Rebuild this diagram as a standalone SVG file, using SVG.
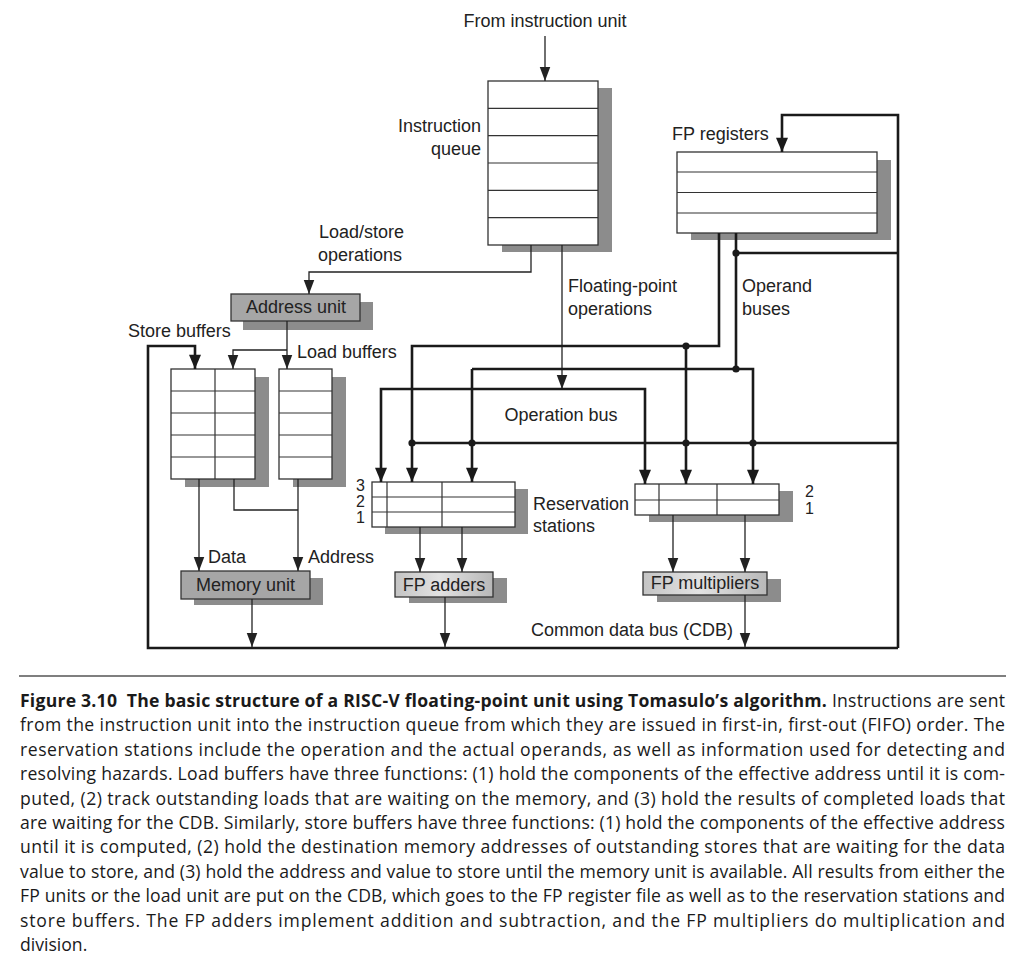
<svg xmlns="http://www.w3.org/2000/svg" width="1024" height="974" viewBox="0 0 1024 974">
<defs>
<style>
.t{font-family:"Liberation Sans",Arial,sans-serif;font-size:18px;fill:#222}
.n{font-family:"Liberation Sans",Arial,sans-serif;font-size:16px;fill:#222}
.c{font-family:"Open Sans","Noto Sans",sans-serif;font-size:17.6px;fill:#1a1a1a}
.b{font-weight:bold}
.box{fill:#fff;stroke:#333;stroke-width:1.3}
.sh{fill:#8c8c8c}
.gray{fill:#a6a6a6;stroke:#333;stroke-width:1.3}
.grad{fill:url(#g);stroke:#333;stroke-width:1.3}
.row{stroke:#333;stroke-width:1.2;fill:none}
.thin{stroke:#222;stroke-width:1.3;fill:none}
.thick{stroke:#1a1a1a;stroke-width:2.6;fill:none}
.dot{fill:#1a1a1a}
</style>
<linearGradient id="g" x1="0" y1="0" x2="1" y2="0">
<stop offset="0" stop-color="#c4c4c4"/>
<stop offset="0.45" stop-color="#e2e2e2"/>
<stop offset="1" stop-color="#b8b8b8"/>
</linearGradient>
<marker id="a" markerUnits="userSpaceOnUse" markerWidth="14" markerHeight="12" viewBox="0 0 12 10" refX="12" refY="5" orient="auto">
<path d="M0,0.5 L12,5 L0,9.5 z" fill="#222"/>
</marker>
<marker id="A" markerUnits="userSpaceOnUse" markerWidth="15" markerHeight="12" viewBox="0 0 13 11" refX="13" refY="5.5" orient="auto">
<path d="M0,0 L13,5.5 L0,11 z" fill="#1a1a1a"/>
</marker>
</defs>
<rect width="1024" height="974" fill="#fff"/>

<text class="t" x="545" y="27" text-anchor="middle">From instruction unit</text>

<g id="instruction-queue">
<rect class="sh" x="502" y="88" width="110" height="164"/>
<rect class="box" x="488" y="81" width="110" height="164"/>
<path class="row" d="M488,108.3H598M488,135.7H598M488,163H598M488,190.3H598M488,217.7H598"/>
<text class="t" x="481" y="132" text-anchor="end">Instruction</text>
<text class="t" x="481" y="155" text-anchor="end">queue</text>
</g>

<g id="fp-registers">
<rect class="sh" x="691" y="160" width="200" height="80"/>
<rect class="box" x="677" y="152" width="200" height="81"/>
<path class="row" d="M677,172H877M677,192.5H877M677,213H877"/>
<text class="t" x="672" y="140">FP registers</text>
</g>

<g id="address-unit">
<rect class="sh" x="243" y="302" width="130" height="28"/>
<rect class="gray" x="231" y="294" width="129" height="27"/>
<text class="t" x="296" y="313" text-anchor="middle">Address unit</text>
</g>

<g id="store-buffers">
<rect class="sh" x="185" y="377" width="84" height="110"/>
<rect class="box" x="171" y="369" width="84" height="110"/>
<path class="row" d="M215,369V479M171,391H255M171,413H255M171,435H255M171,457H255"/>
<text class="t" x="128" y="337">Store buffers</text>
</g>

<g id="load-buffers">
<rect class="sh" x="293" y="377" width="53" height="110"/>
<rect class="box" x="279" y="369" width="53" height="110"/>
<path class="row" d="M279,391H332M279,413H332M279,435H332M279,457H332"/>
<text class="t" x="297" y="358">Load buffers</text>
</g>

<g id="memory-unit">
<rect class="sh" x="194" y="578" width="129" height="27"/>
<rect class="gray" x="181" y="571" width="129" height="28"/>
<text class="t" x="245.5" y="591" text-anchor="middle">Memory unit</text>
</g>

<g id="adder-reservation-stations">
<rect class="sh" x="385" y="489" width="143" height="45"/>
<rect class="box" x="372" y="482" width="143" height="45"/>
<path class="row" d="M372,497H515M372,512H515M387,482V527M442,482V527"/>
<text class="n" x="365" y="491" text-anchor="end">3</text>
<text class="n" x="365" y="507" text-anchor="end">2</text>
<text class="n" x="365" y="523" text-anchor="end">1</text>
<text class="t" x="533" y="510">Reservation</text>
<text class="t" x="533" y="532">stations</text>
</g>

<g id="multiplier-reservation-stations">
<rect class="sh" x="649" y="491" width="144" height="31"/>
<rect class="box" x="635" y="484" width="144" height="31"/>
<path class="row" d="M635,500H779M659,484V515M717,484V515"/>
<text class="n" x="805" y="497">2</text>
<text class="n" x="805" y="514">1</text>
</g>

<g id="fp-adders">
<rect class="sh" x="409" y="578" width="98" height="25"/>
<rect class="grad" x="395" y="572" width="98" height="25"/>
<text class="t" x="444" y="591" text-anchor="middle">FP adders</text>
</g>

<g id="fp-multipliers">
<rect class="sh" x="657" y="579" width="124" height="23"/>
<rect class="grad" x="643" y="572" width="124" height="23"/>
<text class="t" x="705" y="589" text-anchor="middle">FP multipliers</text>
</g>

<g id="labels">
<text class="t" x="319" y="238">Load/store</text>
<text class="t" x="318" y="261">operations</text>
<text class="t" x="568" y="292">Floating-point</text>
<text class="t" x="568" y="315">operations</text>
<text class="t" x="742" y="292">Operand</text>
<text class="t" x="742" y="315">buses</text>
<text class="t" x="561" y="421" text-anchor="middle">Operation bus</text>
<text class="t" x="208" y="563">Data</text>
<text class="t" x="308" y="563">Address</text>
<text class="t" x="733" y="636" text-anchor="end">Common data bus (CDB)</text>
</g>

<g id="connectors">
<path class="thin" d="M545,36V81" marker-end="url(#a)"/>
<path class="thin" d="M531,245V272H309V294" marker-end="url(#a)"/>
<path class="thin" d="M562,245V389" marker-end="url(#a)"/>
<path class="thin" d="M287,321V369" marker-end="url(#a)"/>
<path class="thin" d="M287,350H233V369" marker-end="url(#a)"/>
<path class="thin" d="M199,479V571" marker-end="url(#a)"/>
<path class="thin" d="M234,479V510H298"/>
<path class="thin" d="M298,479V571" marker-end="url(#a)"/>
<path class="thin" d="M252,599V647" marker-end="url(#a)"/>
<path class="thin" d="M420,527V572" marker-end="url(#a)"/>
<path class="thin" d="M462,527V572" marker-end="url(#a)"/>
<path class="thin" d="M445,597V647" marker-end="url(#a)"/>
<path class="thin" d="M673,515V572" marker-end="url(#a)"/>
<path class="thin" d="M745,515V572" marker-end="url(#a)"/>
<path class="thin" d="M745,595V647" marker-end="url(#a)"/>

<path class="thick" d="M898,648H148V346H195V369" marker-end="url(#A)"/>
<path class="thick" d="M898,648V115H782V152" marker-end="url(#A)"/>
<path class="thick" d="M898,443H412"/>
<path class="thick" d="M736,253H898"/>
<path class="thick" d="M719,233V346H412V482" marker-end="url(#A)"/>
<path class="thick" d="M686,346V484" marker-end="url(#A)"/>
<path class="thick" d="M736,233V369"/>
<path class="thick" d="M472,369H753V484" marker-end="url(#A)"/>
<path class="thick" d="M472,369V482" marker-end="url(#A)"/>
<path class="thick" d="M562,389H381V482" marker-end="url(#A)"/>
<path class="thick" d="M562,389H645V484" marker-end="url(#A)"/>
<circle class="dot" cx="412" cy="443" r="3.6"/>
<circle class="dot" cx="472" cy="443" r="3.6"/>
<circle class="dot" cx="686" cy="443" r="3.6"/>
<circle class="dot" cx="753" cy="443" r="3.6"/>
<circle class="dot" cx="686" cy="346" r="3.6"/>
<circle class="dot" cx="736" cy="369" r="3.6"/>
<circle class="dot" cx="736" cy="253" r="3.6"/>
</g>

<g id="caption">
<line x1="19" y1="676" x2="1006" y2="676" stroke="#555" stroke-width="1.5"/>
<text class="c" x="20" y="707" textLength="985" lengthAdjust="spacing"><tspan class="b">Figure 3.10&#160; The basic structure of a RISC-V floating-point unit using Tomasulo’s algorithm.</tspan> Instructions are sent</text>
<text class="c" x="20" y="731.4" textLength="985" lengthAdjust="spacing">from the instruction unit into the instruction queue from which they are issued in first-in, first-out (FIFO) order. The</text>
<text class="c" x="20" y="755.8" textLength="985" lengthAdjust="spacing">reservation stations include the operation and the actual operands, as well as information used for detecting and</text>
<text class="c" x="20" y="780.2" textLength="985" lengthAdjust="spacing">resolving hazards. Load buffers have three functions: (1) hold the components of the effective address until it is com-</text>
<text class="c" x="20" y="804.6" textLength="985" lengthAdjust="spacing">puted, (2) track outstanding loads that are waiting on the memory, and (3) hold the results of completed loads that</text>
<text class="c" x="20" y="829" textLength="985" lengthAdjust="spacing">are waiting for the CDB. Similarly, store buffers have three functions: (1) hold the components of the effective address</text>
<text class="c" x="20" y="853.4" textLength="985" lengthAdjust="spacing">until it is computed, (2) hold the destination memory addresses of outstanding stores that are waiting for the data</text>
<text class="c" x="20" y="877.8" textLength="985" lengthAdjust="spacing">value to store, and (3) hold the address and value to store until the memory unit is available. All results from either the</text>
<text class="c" x="20" y="902.2" textLength="985" lengthAdjust="spacing">FP units or the load unit are put on the CDB, which goes to the FP register file as well as to the reservation stations and</text>
<text class="c" x="20" y="926.6" textLength="985" lengthAdjust="spacing">store buffers. The FP adders implement addition and subtraction, and the FP multipliers do multiplication and</text>
<text class="c" x="20" y="951">division.</text>
</g>
</svg>
